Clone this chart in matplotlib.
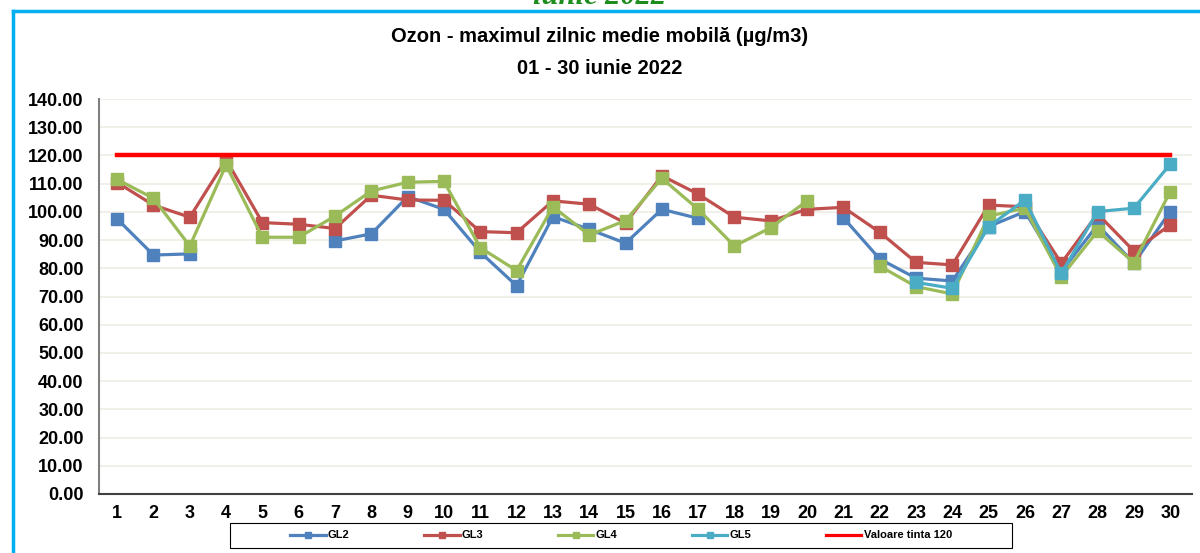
import numpy as np
import matplotlib.pyplot as plt
from matplotlib.lines import Line2D
from matplotlib.patches import Rectangle

nan = np.nan
days = list(range(1, 31))

GL2 = [97.5, 84.7, 85.1, nan, nan, nan, 89.7, 92.2, 105.4, 100.9,
       85.7, 73.8, 98.3, 93.8, 88.9, 100.9, 97.7, nan, nan, nan,
       97.9, 83.3, 76.5, 75.5, 94.8, 100.1, 78.8, 95.4, 81.8, 100.1]
GL3 = [110.4, 102.4, 98.1, 118.5, 96.2, 95.6, 94.1, 105.9, 104.2, 104.1,
       93.0, 92.6, 103.9, 102.7, 96.0, 112.8, 106.3, 98.1, 96.8, 100.9,
       101.6, 92.8, 82.1, 81.2, 102.4, 101.8, 81.8, 99.3, 86.1, 95.4]
GL4 = [111.5, 104.8, 87.9, 116.6, 91.0, 91.0, 98.5, 107.4, 110.5, 110.8,
       87.3, 79.2, 101.8, 91.8, 96.9, 111.9, 100.9, 87.9, 94.4, 103.9,
       nan, 80.8, 73.5, 70.9, 98.5, 101.3, 77.0, 93.2, 82.0, 107.2]
GL5 = [nan] * 22 + [75.0, 72.9, 94.8, 104.2, 78.2, 100.1, 101.3, 116.9]
target = [120] * 30

series = [('GL2', GL2, '#4F81BD'), ('GL3', GL3, '#C0504D'),
          ('GL4', GL4, '#9BBB59'), ('GL5', GL5, '#4BACC6')]

plt.rcParams['font.family'] = ['Liberation Sans', 'DejaVu Sans']

fig = plt.figure(figsize=(12, 5.53), dpi=100)
ax = fig.add_axes([99/1200, 1 - 494/553, (1192-99)/1200, (494-99)/553])

for name, vals, col in series:
    ax.plot(days, vals, color=col, lw=2.3, marker='s', ms=8, label=name)
ax.plot(days, target, color='#FF0000', lw=3.2, label='Valoare tinta 120')

ax.set_xlim(0.5, 30.6)
ax.set_ylim(0, 140)
ax.set_yticks(np.arange(0, 141, 10))
ax.set_yticklabels(['%.2f' % v for v in np.arange(0, 141, 10)], fontsize=13, fontweight='bold')
ax.set_xticks(days)
ax.set_xticklabels([str(d) for d in days], fontsize=13, fontweight='bold')
ax.tick_params(axis='y', length=0, pad=11)
ax.tick_params(axis='x', length=0, pad=8)
ax.grid(axis='y', color='#EEEDE4', lw=1.2)
ax.set_axisbelow(True)
ax.spines['top'].set_visible(False)
ax.spines['right'].set_visible(False)
ax.spines['left'].set_color('#808080')
ax.spines['left'].set_linewidth(1.5)
ax.spines['bottom'].set_color('#404040')
ax.spines['bottom'].set_linewidth(1.5)

fig.text(0.5, 1 - 37/553, 'Ozon - maximul zilnic medie mobilă (µg/m3)', ha='center', va='center',
         fontsize=14.5, fontweight='bold')
fig.text(0.5, 1 - 68/553, '01 - 30 iunie 2022', ha='center', va='center',
         fontsize=14.5, fontweight='bold')
fig.text(0.5, 1 + 4/553, 'iunie 2022', ha='center', va='center', fontsize=22,
         fontweight='bold', style='italic', color='#1E8C1E', family='Liberation Serif')

# cyan frame
fig.add_artist(Line2D([13/1200, 13/1200], [0, 1 - 11/553], color='#00B0F0', lw=2.5))
fig.add_artist(Line2D([13/1200, 1], [1 - 11/553, 1 - 11/553], color='#00B0F0', lw=2.5))

# legend box
fig.add_artist(Rectangle((230/1200, 5/553), 782/1200, 25/553, transform=fig.transFigure,
                         fill=False, edgecolor='black', lw=0.8))
handles, labels = ax.get_legend_handles_labels()
leg = fig.legend(handles, labels, loc='center', ncol=5,
                 bbox_to_anchor=(621/1200, 17.5/553),
                 fontsize=8, frameon=False, handlelength=3.2,
                 handletextpad=0.2, markerscale=0.5, columnspacing=6.7)
for t in leg.get_texts():
    t.set_fontweight('bold')
for h in leg.legend_handles:
    h.set_linewidth(2.3)

fig.savefig('out.png', dpi=100)
